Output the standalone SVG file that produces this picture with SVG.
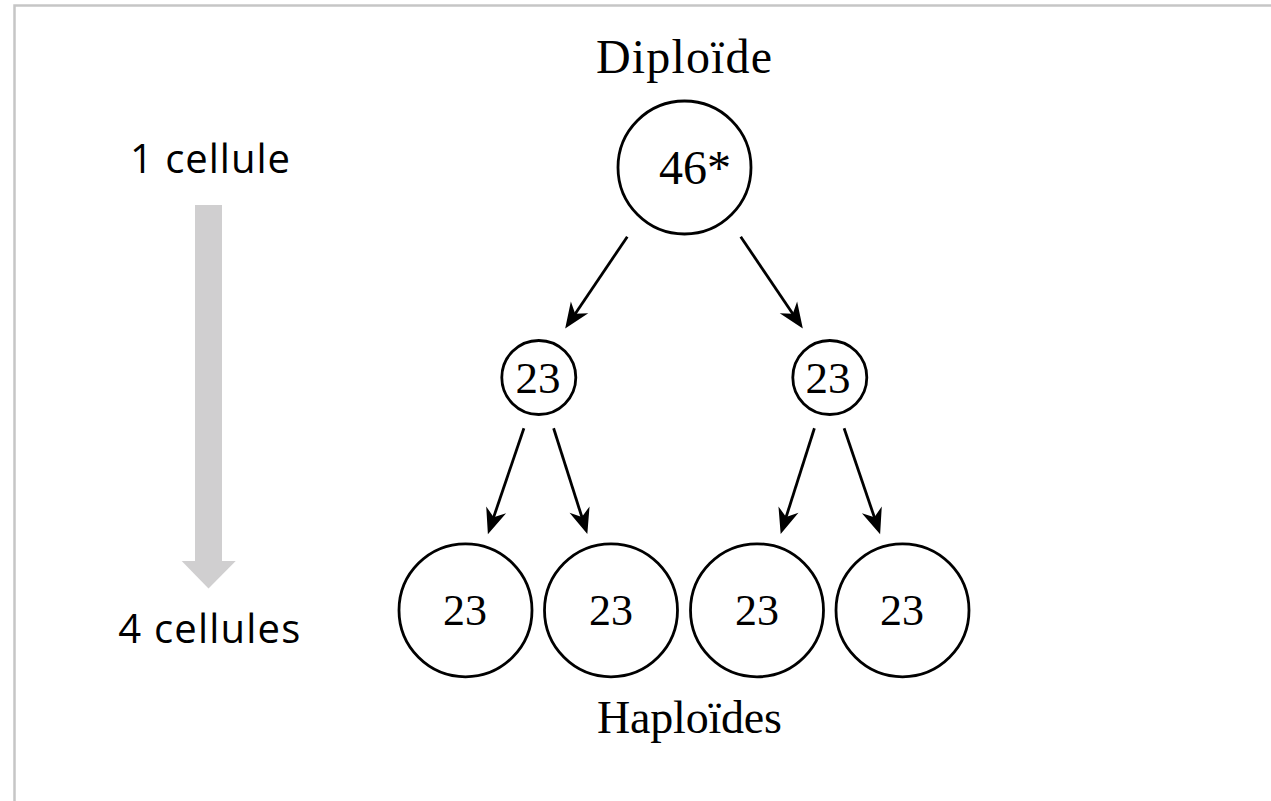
<svg xmlns="http://www.w3.org/2000/svg" width="1271" height="801" viewBox="0 0 1271 801">
<defs>
<style>
.frame{fill:#ffffff;stroke:#c6c6c6;stroke-width:2.5}
.cell{fill:#ffffff;stroke:#000000;stroke-width:2.8}
.serif{font-family:"Liberation Serif","Times New Roman",serif;fill:#000000}
.sans{font-family:"Open Sans","Liberation Sans",sans-serif;fill:#000000;font-size:40px}
.conn{stroke:#000000;stroke-width:2.8;fill:none;marker-end:url(#head)}
.big{fill:#d0cfd0}
</style>
<marker id="head" markerUnits="userSpaceOnUse" markerWidth="70" markerHeight="70" refX="0" refY="0" orient="auto" overflow="visible" viewBox="-45 -35 90 70">
<path d="M20,0 L-13,-13.5 L-3,0 L-13,13.5 Z" fill="#000000"/>
</marker>
</defs>
<rect x="0" y="0" width="1271" height="801" fill="#ffffff"/>
<rect class="frame" x="14.5" y="5.5" width="1270" height="810"/>

<g id="progress">
<text class="sans" x="130" y="173" textLength="160" lengthAdjust="spacing">1 cellule</text>
<rect class="big" x="195" y="205" width="27" height="357"/>
<polygon class="big" points="181.7,561 235.7,561 208.5,588.5"/>
<text class="sans" x="118.3" y="643" textLength="182" lengthAdjust="spacing">4 cellules</text>
</g>

<g id="label-diploide">
<text class="serif" x="596" y="73.3" font-size="48" textLength="176" lengthAdjust="spacing">Diploïde</text>
</g>

<g id="node-46">
<circle class="cell" cx="684.5" cy="167.5" r="66.5"/>
<text class="serif" x="659" y="184" font-size="48">46*</text>
</g>

<g id="node-23-left">
<circle class="cell" cx="538.8" cy="377.5" r="37"/>
<text class="serif" x="538" y="392.7" font-size="45" text-anchor="middle">23</text>
</g>
<g id="node-23-right">
<circle class="cell" cx="829.8" cy="377.5" r="37"/>
<text class="serif" x="828" y="392.7" font-size="45" text-anchor="middle">23</text>
</g>

<g id="node-h1">
<circle class="cell" cx="465.5" cy="610.3" r="66.5"/>
<text class="serif" x="465" y="625" font-size="44" text-anchor="middle">23</text>
</g>
<g id="node-h2">
<circle class="cell" cx="611" cy="610.3" r="66.5"/>
<text class="serif" x="611" y="625" font-size="44" text-anchor="middle">23</text>
</g>
<g id="node-h3">
<circle class="cell" cx="757" cy="610.3" r="66.5"/>
<text class="serif" x="757" y="625" font-size="44" text-anchor="middle">23</text>
</g>
<g id="node-h4">
<circle class="cell" cx="902.5" cy="610.3" r="66.5"/>
<text class="serif" x="902" y="625" font-size="44" text-anchor="middle">23</text>
</g>

<g id="label-haploides">
<text class="serif" x="597" y="733.3" font-size="46" textLength="185" lengthAdjust="spacing">Haploïdes</text>
</g>

<g id="connectors">
<line class="conn" x1="627.3" y1="236.7" x2="573.9" y2="315.7"/>
<line class="conn" x1="740.7" y1="236.7" x2="794.1" y2="315.7"/>
<line class="conn" x1="523.9" y1="428.3" x2="492.9" y2="519.4"/>
<line class="conn" x1="553.6" y1="428.3" x2="582.6" y2="519.3"/>
<line class="conn" x1="814.4" y1="428.3" x2="785.4" y2="519.3"/>
<line class="conn" x1="844.1" y1="428.3" x2="875.1" y2="519.4"/>
</g>
</svg>
